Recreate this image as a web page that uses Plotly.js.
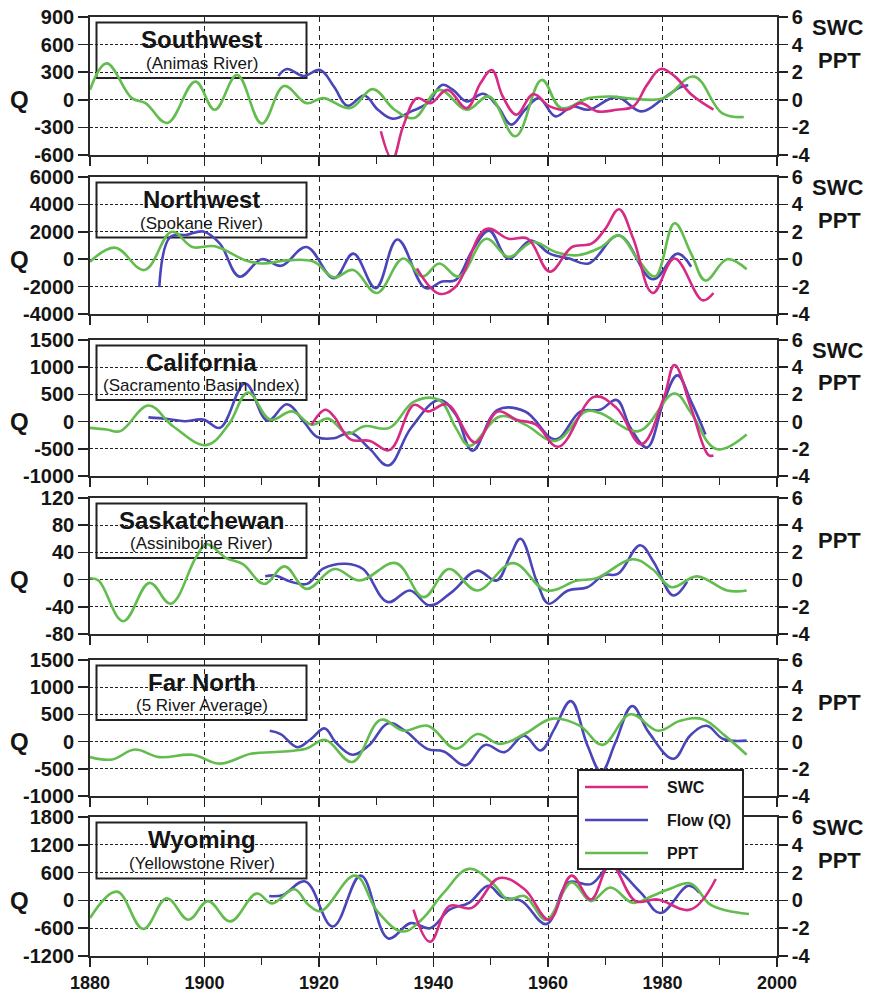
<!DOCTYPE html>
<html><head><meta charset="utf-8">
<script src="https://cdn.plot.ly/plotly-3.0.1.min.js"></script>
<style>html,body{margin:0;padding:0;background:#fff}#chart{width:870px;height:993px}</style>
</head><body><div id="chart"></div>
<script>
// ---------------- DATA ----------------
const regions = ['Southwest','Northwest','California','Saskatchewan','Far North','Wyoming'];
const rivers = ['(Animas River)','(Spokane River)','(Sacramento Basin Index)','(Assiniboine River)','(5 River Average)','(Yellowstone River)'];
const seriesNames = ['SWC','Flow (Q)','PPT'];

const yearTicks = [1880,1900,1920,1940,1960,1980,2000];
const rightTicks = [-4,-2,0,2,4,6];
const swQTicks = [-600,-300,0,300,600,900];
const nwQTicks = [-4000,-2000,0,2000,4000,6000];
const caQTicks = [-1000,-500,0,500,1000,1500];
const skQTicks = [-80,-40,0,40,80,120];
const fnQTicks = [-1000,-500,0,500,1000,1500];
const wyQTicks = [-1200,-600,0,600,1200,1800];

// Southwest (Animas River)
const swPptYear = [1880,1882.9,1887.3,1889.7,1893.5,1898.4,1901.8,1905.7,1910,1913.9,1917.8,1920.7,1925.5,1929.4,1933.2,1936.6,1941,1945.8,1949.7,1954.3,1958.9,1962.3,1967.1,1971,1974.9,1980.2,1985.5,1990.4,1994.2];
const swPptVal = [0.72,2.64,0.12,-0.24,-1.68,1.32,-0.72,1.8,-1.73,1.0,-0.24,0.12,-0.6,0.77,-0.72,-1.32,0.72,-0.72,0.24,-2.64,1.44,-0.6,0.12,0.24,0.07,0.12,1.68,-0.96,-1.25];
const swFlowYear = [1912.9,1914.4,1917.3,1920.2,1922.6,1925,1927.9,1930.3,1932.8,1936.1,1939,1941.5,1943.4,1945.8,1948.7,1951.2,1953.6,1956,1958.4,1961.3,1964.2,1967.1,1972,1976.3,1980.2,1983.1,1984.5];
const swFlowVal = [259,335,259,324,144,-65,47,-108,-205,-126,-36,162,108,-18,65,-72,-270,-108,18,-180,-72,-108,29,-126,18,137,158];
const swSwcYear = [1930.8,1932.8,1934.7,1937.1,1939.5,1942.4,1945.8,1948.2,1950.2,1952.1,1954.5,1957.4,1960.3,1963.3,1965.7,1968.6,1972,1974.9,1977.3,1979.7,1982.2,1985.1,1988.9];
const swSwcVal = [-2.28,-4.32,-1.92,0.12,-0.24,0.72,-0.6,1.2,2.16,0.24,-1.08,0.41,-0.48,-0.72,-0.24,-0.84,-0.72,-0.48,1.08,2.23,1.68,0.36,-0.72];

// Northwest (Spokane River)
const nwPptYear = [1880,1884.4,1889.5,1894.3,1897.9,1901.8,1907.1,1910,1914.8,1919.1,1922.6,1926,1930.1,1934.7,1938.1,1941,1944.4,1949.2,1953.1,1957.4,1961.3,1965.2,1969.1,1972.4,1975.8,1978.7,1982.1,1985,1987.5,1991.3,1994.7];
const nwPptVal = [-0.19,0.84,-0.79,2.0,0.89,0.94,-0.07,-0.31,-0.07,-0.19,-1.32,-0.79,-2.47,0.05,-1.27,-0.31,-1.27,1.49,0.17,1.25,0.53,0.29,0.84,1.73,-0.07,-1.27,2.62,0.41,-1.56,0,-0.74];
const nwFlowYear = [1892.1,1894,1896.9,1899.8,1902.7,1906.1,1910,1913.4,1917.8,1922.6,1926,1929.9,1933.7,1938.6,1941.5,1943.9,1946.8,1949.7,1953.1,1957,1960.3,1963.7,1967.1,1972.4,1978.3,1982.6,1985];
const nwFlowVal = [-2040,1608,1776,2016,1128,-1272,0,-480,888,-1392,408,-2112,1440,-2112,-1632,-1512,648,2088,48,1368,408,48,-312,1728,-1464,408,-552];
const nwSwcYear = [1937.1,1941,1943.9,1949.2,1953.1,1956.5,1960.3,1964.2,1967.6,1970,1972.4,1974.9,1978.3,1982.1,1987,1988.9];
const nwSwcVal = [-0.67,-2.52,-1.99,2.21,1.49,1.49,-0.91,0.89,1.13,2.21,3.65,1.49,-2.47,0.05,-3.0,-2.47];

// California (Sacramento Basin Index)
const caPptYear = [1880,1882.9,1885.3,1890.2,1894.5,1900.3,1904.2,1907.6,1911.5,1915.3,1918.7,1921.6,1925,1927.9,1932.3,1936.6,1941,1943.9,1946.3,1951.6,1956,1961.3,1966.6,1969.1,1975.8,1982.1,1985,1989.4,1994.7];
const caPptVal = [-0.46,-0.58,-0.7,1.18,-0.34,-1.73,-0.22,2.14,0.14,0.75,-0.22,0.22,-0.89,-0.34,-0.46,1.47,1.59,-0.46,-1.78,0.38,-0.22,-1.42,0.75,0.63,-0.7,2.07,0.63,-2.02,-0.94];
const caFlowYear = [1890.2,1893.6,1896.5,1899.8,1902.7,1907.1,1911,1914.4,1917.3,1919.7,1922.6,1925.5,1928.9,1932.1,1936.1,1941,1943.9,1946.8,1951.2,1956,1961.3,1965.7,1969.1,1972,1974.4,1977.3,1980.2,1982.6,1985,1987.5];
const caFlowVal = [78,48,6,36,-114,700,18,319,6,-283,-307,-205,-506,-807,-114,397,126,-536,217,187,-325,187,217,397,-114,-476,367,849,367,-235];
const caSwcYear = [1918.7,1921.1,1922.6,1925.5,1928.9,1932.3,1936.6,1939,1942.4,1947.3,1951.2,1954.5,1957.9,1961.8,1968.1,1972,1976.3,1980.2,1982.1,1985,1988,1988.9];
const caSwcVal = [-0.22,0.87,0.38,-1.3,-1.42,-2.09,1.23,0.75,1.27,-1.54,0.75,0.14,-0.22,-1.85,1.83,0.99,-1.66,1.71,4.16,0.99,-2.45,-2.5];

// Saskatchewan (Assiniboine River)
const skPptYear = [1880,1881.5,1885.8,1890.4,1894.1,1898.5,1900.4,1903.8,1906.7,1910.4,1914,1917.8,1922.7,1927.1,1933.4,1938.3,1942.7,1947.6,1953.9,1959.7,1965.1,1968.5,1974.8,1978.2,1981.6,1986,1991.3,1994.7];
const skPptVal = [0.1,-0.07,-3.06,-0.24,-1.77,1.63,2.6,1.58,1.14,-0.32,0.97,-0.68,0.78,-0.07,1.21,-1.29,0.78,-0.8,1.21,-0.8,-0.07,0.1,1.5,0.78,-0.56,0.24,-0.8,-0.8];
const skFlowYear = [1910.6,1912.5,1915,1917.9,1920.8,1924.7,1927.7,1932,1935.9,1939.3,1943.2,1947.6,1951,1953.4,1955.2,1958.2,1960.1,1963.5,1966.9,1969.8,1972.2,1976.1,1978.5,1981.9,1984.3];
const skFlowVal = [4.9,5.8,-2.9,-6.3,16.5,23.3,15.5,-33,-16,-37.9,-18.4,13.1,-1.5,35,60,-6.3,-35.4,-16,-11.2,6.8,8.3,50.5,25.2,-23.3,-2.9];

// Far North (5 River Average)
const fnPptYear = [1880,1883.9,1887.8,1892.1,1897.9,1902.7,1908.1,1912.4,1917.7,1921.1,1925.8,1930.8,1934.7,1939,1943.9,1947.7,1951.6,1955.9,1960.8,1965.6,1969.5,1974.4,1979.2,1983.1,1987,1990.9,1994.7];
const fnPptVal = [-1.14,-1.31,-0.58,-1.14,-0.97,-1.62,-0.9,-0.77,-0.53,0.12,-1.5,1.6,0.8,1.16,-0.53,0.56,-0.17,0.56,1.69,1.16,-0.24,2.01,0.8,1.53,1.65,0.44,-0.97];
const fnFlowYear = [1911.4,1913.3,1916.2,1918.6,1921,1922.9,1925.8,1928.7,1932.1,1935,1938.9,1941.8,1945.6,1949,1952.4,1955.8,1958.7,1961.1,1964,1966.9,1969.3,1971.8,1974.7,1977.6,1981.9,1984.8,1987.7,1990.6,1994.7];
const fnFlowVal = [200,139,-103,48,242,-12,-242,-73,339,200,-133,-182,-436,-61,-194,109,-163,230,744,-73,-557,-12,653,169,-315,109,290,48,18];

// Wyoming (Yellowstone River)
const wyPptYear = [1880,1884.7,1889.3,1893.4,1897.2,1900.6,1904.5,1909.1,1911.8,1915.7,1918.1,1920.3,1926.3,1930.2,1934.6,1937.9,1941.8,1946.2,1950.5,1953,1955.9,1959.7,1964.1,1967.5,1970.9,1974.8,1978.2,1981.1,1984.9,1988.3,1991.2,1995.1];
const wyPptVal = [-1.27,0.63,-2.05,0.15,-1.39,-0.05,-1.51,0.49,-0.22,0.8,-0.29,-0.78,1.78,-0.78,-2.24,-1.39,0.56,2.27,1.17,0.07,0.32,-1.39,1.29,-0.05,0.93,-0.17,0.32,0.8,1.22,-0.29,-0.73,-0.98];
const wyFlowYear = [1911.3,1913.7,1917.6,1922.4,1927.3,1932.1,1936,1939.4,1942.8,1946.2,1949.6,1952,1955.4,1959.7,1963.6,1967.5,1970.9,1976.2,1979.6,1984.5,1986.4];
const wyFlowVal = [95,117,410,-564,534,-820,-490,-600,-198,-51,315,73,-15,-512,388,351,717,168,-271,315,168];
const wySwcYear = [1936.5,1939.4,1942.8,1946.7,1951.5,1955.9,1960.2,1964.1,1967.5,1970.9,1975.3,1979.1,1984.9,1989.3];
const wySwcVal = [-0.66,-2.98,-0.41,-0.54,1.61,0.8,-1.39,1.78,0.07,2.63,-0.05,0.07,-0.66,1.54];

// ---------------- BUILD ----------------
const panels = [
  {qTicks: swQTicks, ppt:[swPptYear,swPptVal], flow:[swFlowYear,swFlowVal], swc:[swSwcYear,swSwcVal]},
  {qTicks: nwQTicks, ppt:[nwPptYear,nwPptVal], flow:[nwFlowYear,nwFlowVal], swc:[nwSwcYear,nwSwcVal]},
  {qTicks: caQTicks, ppt:[caPptYear,caPptVal], flow:[caFlowYear,caFlowVal], swc:[caSwcYear,caSwcVal]},
  {qTicks: skQTicks, ppt:[skPptYear,skPptVal], flow:[skFlowYear,skFlowVal], swc:null},
  {qTicks: fnQTicks, ppt:[fnPptYear,fnPptVal], flow:[fnFlowYear,fnFlowVal], swc:null},
  {qTicks: wyQTicks, ppt:[wyPptYear,wyPptVal], flow:[wyFlowYear,wyFlowVal], swc:[wySwcYear,wySwcVal]}
];

const C_SWC = '#d62a84', C_FLOW = '#4a45b8', C_PPT = '#62bd4e';
const COLORS = [C_SWC, C_FLOW, C_PPT];
const FONT = 'Liberation Sans, Arial, sans-serif';
const INK = '#151515';
// plot frame in pixels
const W = 870, H = 993, ML = 90, MR = 93, MT = 17, MB = 37;
const PW = W - ML - MR, PH = H - MT - MB;
const px = v => (v - ML) / PW;           // pixel x -> paper
const py = v => (H - MB - v) / PH;       // pixel y -> paper
const panelPx = [[17,155],[177,314],[340,476],[498,634],[660,796],[817,956]];
const domains = panelPx.map(([t,b]) => [py(b), py(t)]);

const traces = [];
const layout = {
  width: W, height: H,
  margin: {l: ML, r: MR, t: MT, b: MB},
  paper_bgcolor: '#fff', plot_bgcolor: '#fff',
  font: {family: FONT, color: INK},
  showlegend: false,
  shapes: [], annotations: []
};

panels.forEach((p, i) => {
  const n = i + 1;
  const xa = n === 1 ? 'x' : 'x' + n;
  const ya = n === 1 ? 'y' : 'y' + n;
  const yr = 'y' + (n + 6);
  traces.push({type:'scatter', mode:'lines', x:p.ppt[0], y:p.ppt[1], xaxis:xa, yaxis:yr,
    line:{color:C_PPT, width:2.6, shape:'spline', smoothing:1.1}, name:seriesNames[2]});
  traces.push({type:'scatter', mode:'lines', x:p.flow[0], y:p.flow[1], xaxis:xa, yaxis:ya,
    line:{color:C_FLOW, width:2.6, shape:'spline', smoothing:1.1}, name:seriesNames[1]});
  if (p.swc) traces.push({type:'scatter', mode:'lines', x:p.swc[0], y:p.swc[1], xaxis:xa, yaxis:yr,
    line:{color:C_SWC, width:2.6, shape:'spline', smoothing:1.1}, name:seriesNames[0]});

  const qt = p.qTicks;
  layout['xaxis' + (n === 1 ? '' : n)] = {
    domain:[0,1], anchor: ya, range:[1880,2000],
    tickvals: yearTicks, ticktext: yearTicks.map(String),
    showticklabels: n === 6, ticks:'outside', ticklen:9, tickwidth:1.6, tickcolor:'#222',
    minor:{dtick:10, tick0:1880, ticks:'outside', ticklen:7, tickwidth:1.4, tickcolor:'#222', showgrid:false},
    showgrid:true, gridcolor:'#222', gridwidth:1, griddash:'5px,4px',
    showline:true, linecolor:'#2a2a2a', linewidth:2, mirror:true, zeroline:false,
    tickfont:{family:FONT, size:18, weight:'bold', color:INK}
  };
  layout['yaxis' + (n === 1 ? '' : n)] = {
    domain: domains[i], anchor: xa, range:[qt[0], qt[qt.length-1]],
    tickvals: qt, ticktext: qt.map(String),
    ticks:'outside', ticklen:10, tickwidth:1.6, tickcolor:'#222',
    showgrid:true, gridcolor:'#222', gridwidth:1, griddash:'3px,2px', zeroline:false,
    showline:true, linecolor:'#2a2a2a', linewidth:1.8,
    tickfont:{family:FONT, size:20, weight:'bold', color:INK}
  };
  layout['yaxis' + (n + 6)] = {
    overlaying: ya, anchor: xa, side:'right', range:[-4,6],
    tickvals: rightTicks, ticktext: rightTicks.map(String),
    ticks:'outside', ticklen:9, tickwidth:1.6, tickcolor:'#222',
    showgrid:false, zeroline:false, showline:true, linecolor:'#2a2a2a', linewidth:1.8,
    tickfont:{family:FONT, size:20, weight:'bold', color:INK}
  };
  // region box
  layout.shapes.push({type:'rect', xref:'paper', yref: ya + ' domain', x0:px(96.5), x1:px(306.5), y0:1-61/138, y1:1-5.5/138,
    fillcolor:'#fff', line:{color:'#222', width:2}, layer:'between'});
  layout.annotations.push({xref:'paper', yref: ya + ' domain', x:px(201.5), y:1-22.5/138, xanchor:'center', yanchor:'middle',
    text:'<b>' + regions[i] + '</b>', showarrow:false, font:{family:FONT, size:24, color:INK}});
  layout.annotations.push({xref:'paper', yref: ya + ' domain', x:px(201.5), y:1-46.5/138, xanchor:'center', yanchor:'middle',
    text: rivers[i], showarrow:false, font:{family:FONT, size:17, color:INK}});
  layout.annotations.push({xref:'paper', yref: ya, x:px(19.5), y:0, xanchor:'center', yanchor:'middle',
    text:'<b>Q</b>', showarrow:false, font:{family:FONT, size:24, color:INK}});
  if (p.swc) layout.annotations.push({xref:'paper', yref: yr, x:px(837), y:5.25, xanchor:'center', yanchor:'middle',
    text:'<b>SWC</b>', showarrow:false, font:{family:FONT, size:22, color:INK}});
  layout.annotations.push({xref:'paper', yref: yr, x:px(839), y:2.85, xanchor:'center', yanchor:'middle',
    text:'<b>PPT</b>', showarrow:false, font:{family:FONT, size:22, color:INK}});
});

// legend box (drawn over the frame, as in the reference)
layout.shapes.push({type:'rect', xref:'paper', yref:'paper', x0:px(578), x1:px(743), y0:py(869), y1:py(770),
  fillcolor:'#fff', line:{color:'#222', width:2}, layer:'above'});
const legendY = [787, 820, 853];
seriesNames.forEach((nm, k) => {
  layout.shapes.push({type:'line', xref:'paper', yref:'paper', x0:px(585), x1:px(648), y0:py(legendY[k]), y1:py(legendY[k]),
    line:{color:COLORS[k], width:2.6}, layer:'above'});
  layout.annotations.push({xref:'paper', yref:'paper', x:px(665), y:py(legendY[k]), xanchor:'left', yanchor:'middle',
    text:'<b>' + nm + '</b>', showarrow:false, font:{family:FONT, size:16, color:INK}});
});

Plotly.newPlot('chart', traces, layout, {displayModeBar:false, staticPlot:true});
</script></body></html>
